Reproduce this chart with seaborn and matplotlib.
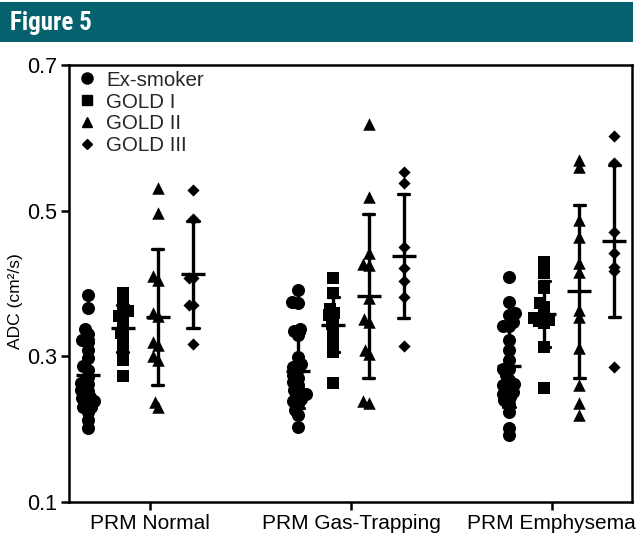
import numpy as np
import pandas as pd
import matplotlib
matplotlib.use("Agg")
import matplotlib.pyplot as plt
from matplotlib.lines import Line2D
from matplotlib.patches import Rectangle
from matplotlib import font_manager
import seaborn as sns

# ---------------- data (ADC, cm^2/s) ----------------
regions = ["PRM Normal", "PRM Gas-Trapping", "PRM Emphysema"]
groups = ["Ex-smoker", "GOLD I", "GOLD II", "GOLD III"]

normal_exsmoker = [0.384, 0.366, 0.338, 0.331, 0.323, 0.320, 0.309, 0.298, 0.287, 0.281,
                   0.272, 0.263, 0.262, 0.254, 0.253, 0.244, 0.243, 0.238, 0.237, 0.231,
                   0.230, 0.224, 0.212, 0.201]
normal_gold1 = [0.387, 0.370, 0.362, 0.359, 0.355, 0.350, 0.340, 0.332, 0.325, 0.313, 0.295, 0.273]
normal_gold2 = [0.531, 0.497, 0.410, 0.405, 0.360, 0.355, 0.320, 0.315, 0.300, 0.295, 0.237, 0.230]
normal_gold3 = [0.529, 0.488, 0.407, 0.407, 0.370, 0.370, 0.317]

gas_exsmoker = [0.391, 0.375, 0.373, 0.338, 0.335, 0.329, 0.299, 0.289, 0.286, 0.282,
                0.274, 0.270, 0.265, 0.260, 0.254, 0.251, 0.248, 0.245, 0.242, 0.238,
                0.235, 0.226, 0.219, 0.203]
gas_gold1 = [0.407, 0.387, 0.365, 0.360, 0.357, 0.352, 0.345, 0.338, 0.326, 0.315, 0.306, 0.263]
gas_gold2 = [0.619, 0.519, 0.442, 0.427, 0.425, 0.380, 0.351, 0.347, 0.309, 0.303, 0.238, 0.236]
gas_gold3 = [0.553, 0.538, 0.450, 0.421, 0.403, 0.381, 0.314]

emph_exsmoker = [0.409, 0.375, 0.359, 0.357, 0.347, 0.341, 0.341, 0.322, 0.309, 0.295,
                 0.283, 0.283, 0.274, 0.267, 0.262, 0.260, 0.258, 0.251, 0.248, 0.244,
                 0.240, 0.235, 0.224, 0.201, 0.192]
emph_gold1 = [0.430, 0.414, 0.394, 0.373, 0.368, 0.358, 0.352, 0.350, 0.348, 0.346, 0.313, 0.256]
emph_gold2 = [0.570, 0.560, 0.487, 0.464, 0.428, 0.416, 0.364, 0.354, 0.311, 0.260, 0.236, 0.219]
emph_gold3 = [0.602, 0.565, 0.471, 0.442, 0.423, 0.417, 0.285]

series = {
    ("PRM Normal", "Ex-smoker"): normal_exsmoker,
    ("PRM Normal", "GOLD I"): normal_gold1,
    ("PRM Normal", "GOLD II"): normal_gold2,
    ("PRM Normal", "GOLD III"): normal_gold3,
    ("PRM Gas-Trapping", "Ex-smoker"): gas_exsmoker,
    ("PRM Gas-Trapping", "GOLD I"): gas_gold1,
    ("PRM Gas-Trapping", "GOLD II"): gas_gold2,
    ("PRM Gas-Trapping", "GOLD III"): gas_gold3,
    ("PRM Emphysema", "Ex-smoker"): emph_exsmoker,
    ("PRM Emphysema", "GOLD I"): emph_gold1,
    ("PRM Emphysema", "GOLD II"): emph_gold2,
    ("PRM Emphysema", "GOLD III"): emph_gold3,
}

# ---------------- layout (positions / styles) ----------------
region_shift = [-0.05, 0.0, 0.05]
group_offset = [-0.2625, -0.0875, 0.0875, 0.2625]
markers = {"Ex-smoker": "o", "GOLD I": "s", "GOLD II": "^", "GOLD III": "D"}
msize = {"Ex-smoker": 9.4, "GOLD I": 8.6, "GOLD II": 9.0, "GOLD III": 6.2}
layout_scale = 0.45

rows = []
for (reg, grp), vals in series.items():
    ri = regions.index(reg)
    gi = groups.index(grp)
    xpos = round(ri + region_shift[ri] + group_offset[gi], 4)
    for v in vals:
        rows.append({"region": reg, "group": grp, "adc": v, "xpos": xpos})
df = pd.DataFrame(rows)

sns.set_theme(style="ticks")
plt.rcParams["font.family"] = ["Liberation Sans", "DejaVu Sans"]

W, H = 636, 533
fig = plt.figure(figsize=(W / 100, H / 100), dpi=100)
fig.patch.set_facecolor("white")
ax = fig.add_axes([69 / W, 1 - 502 / H, (632 - 69) / W, (502 - 65) / H])

# header band
installed = {f.name for f in font_manager.fontManager.ttflist}
head_family = [f for f in ["Roboto Condensed", "Liberation Sans Narrow", "DejaVu Sans Condensed"]
               if f in installed] + ["Liberation Sans", "DejaVu Sans"]
fig.patches.append(Rectangle((0, 1 - 42 / H), 633 / W, 40 / H, transform=fig.transFigure,
                             facecolor="#04616D", edgecolor="none", zorder=0))
fig.text(10 / W, 1 - 23 / H, "Figure 5", color="white", fontsize=18, fontweight="bold",
         family=head_family, fontstretch="condensed", va="center", ha="left")

swarm_colls = []
for g in groups:
    sub = df[df["group"] == g]
    n0 = len(ax.collections)
    sns.swarmplot(data=sub, x="xpos", y="adc", native_scale=True, orient="x",
                  marker=markers[g], color="black", size=msize[g] * layout_scale,
                  linewidth=0, ax=ax, legend=False, zorder=3)
    for c in ax.collections[n0:]:
        swarm_colls.append((c, msize[g]))

sns.pointplot(data=df, x="xpos", y="adc", native_scale=True, orient="x",
              errorbar="sd", linestyle="none", marker="_", markersize=17,
              markeredgewidth=2.4, color="black", capsize=0.32,
              err_kws={"linewidth": 2.4}, ax=ax, zorder=4)

ax.set_xlim(-0.405, 2.40)
ax.set_ylim(0.1, 0.7)
ax.set_xticks([0, 1, 2])
ax.set_xticklabels(regions)
ax.set_yticks([0.1, 0.3, 0.5, 0.7])
ax.set_yticklabels(["0.1", "0.3", "0.5", "0.7"])
ax.set_xlabel("")
ax.set_ylabel("ADC (cm\u00b2/s)", fontsize=12.5, color="black")
ax.yaxis.set_label_coords(-0.082, 0.46)
for s in ax.spines.values():
    s.set_visible(True)
    s.set_linewidth(1.8)
    s.set_color("black")
ax.tick_params(axis="both", direction="out", width=1.8, length=5.5, color="black",
               labelsize=15, labelcolor="black", pad=3)
ax.tick_params(axis="y", labelsize=15.5)

# freeze swarm layout computed with compact markers, then enlarge markers
fig.canvas.draw()
for c, s in swarm_colls:
    if "draw" in c.__dict__:
        del c.__dict__["draw"]
    c.set_sizes([s ** 2])

handles = [Line2D([], [], marker=markers[g], color="black", linestyle="none",
                  markersize=msize[g] * 0.85) for g in groups]
ax.legend(handles, groups, loc="upper left", bbox_to_anchor=(0.014, 0.987),
          frameon=False, fontsize=14.8, handlelength=1.0, handletextpad=0.42,
          labelspacing=0.14, borderpad=0, borderaxespad=0)

fig.savefig("out.png", dpi=100, facecolor="white")
